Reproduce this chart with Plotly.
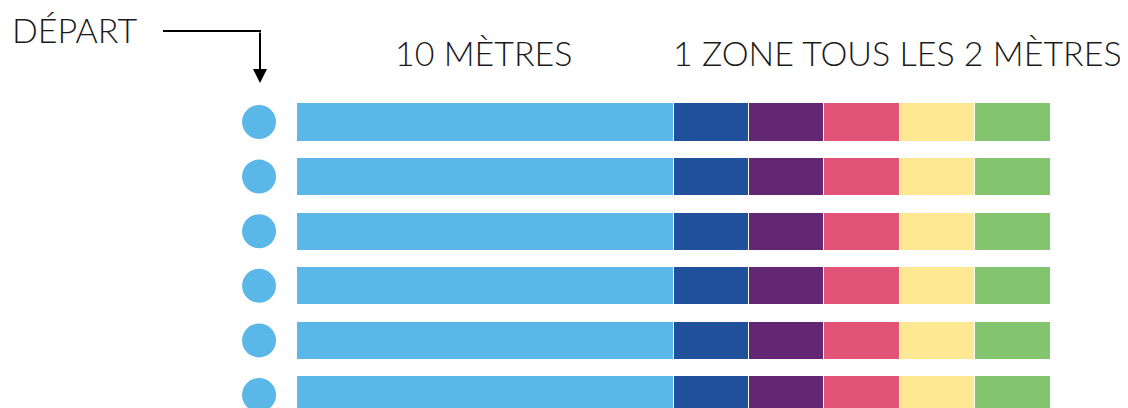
import plotly.graph_objects as go

# ---- data ----
lanes = [0, 1, 2, 3, 4, 5]
segment_names = ["10 mètres", "Zone 1", "Zone 2", "Zone 3", "Zone 4", "Zone 5"]
segment_lengths = [10, 2, 2, 2, 2, 2]
segment_colors = ["#5BB7E8", "#22519C", "#622673", "#E25475", "#FEE891", "#83C56E"]
start_label = "DÉPART"
label_10m = "10 MÈTRES"
label_zones = "1 ZONE TOUS LES 2 MÈTRES"

W, H = 1128, 408
OFF = 8  # page body margin
FONT = "Lato"
FS = 34

fig = go.Figure()
for name, length, color in zip(segment_names, segment_lengths, segment_colors):
    fig.add_trace(go.Bar(
        y=lanes, x=[length] * len(lanes), name=name, orientation="h",
        marker=dict(color=color, line=dict(color="white", width=1)),
        width=0.7, hoverinfo="skip",
    ))

# start circles
fig.add_trace(go.Scatter(
    x=[-0.98] * len(lanes), y=lanes, mode="markers",
    marker=dict(size=34, color="#5BB7E8", line=dict(width=0)),
    hoverinfo="skip", showlegend=False,
))

px_per_m = 37.7
x0_px = 296 - OFF
xr = [-x0_px / px_per_m, (W - x0_px) / px_per_m]
row0_px, row_step = 122 - OFF, 54.6
yr = [(H - row0_px) / row_step, -row0_px / row_step]

def px(x):
    return (x - OFF) / W

def py(y):
    return 1 - (y - OFF) / H

tfont = dict(family=FONT, size=FS, color="#1a1a1a", weight=300)
annotations = [
    dict(text=start_label, x=px(10), y=py(29), xref="paper", yref="paper",
         xanchor="left", yanchor="middle", showarrow=False, font=tfont),
    dict(text=label_10m, x=px(484), y=py(52), xref="paper", yref="paper",
         xanchor="center", yanchor="middle", showarrow=False, font=tfont),
    dict(text=label_zones, x=px(1124), y=py(52), xref="paper", yref="paper",
         xanchor="right", yanchor="middle", showarrow=False, font=tfont),
    dict(text="", x=px(260), y=py(83), xref="paper", yref="paper",
         ax=0, ay=-52, showarrow=True, arrowhead=2, arrowsize=1.4,
         arrowwidth=2, arrowcolor="black", standoff=0),
]

shapes = [
    dict(type="line", xref="paper", yref="paper", x0=px(163), x1=px(261),
         y0=py(31), y1=py(31), line=dict(color="black", width=2)),
]

fig.update_layout(
    width=W, height=H, barmode="stack", bargap=0.3,
    margin=dict(l=0, r=0, t=0, b=0),
    paper_bgcolor="white", plot_bgcolor="white",
    showlegend=False,
    xaxis=dict(range=xr, visible=False, fixedrange=True),
    yaxis=dict(range=yr, visible=False, fixedrange=True),
    annotations=annotations, shapes=shapes,
)

fig.write_html("out.html", config={"displayModeBar": False})
